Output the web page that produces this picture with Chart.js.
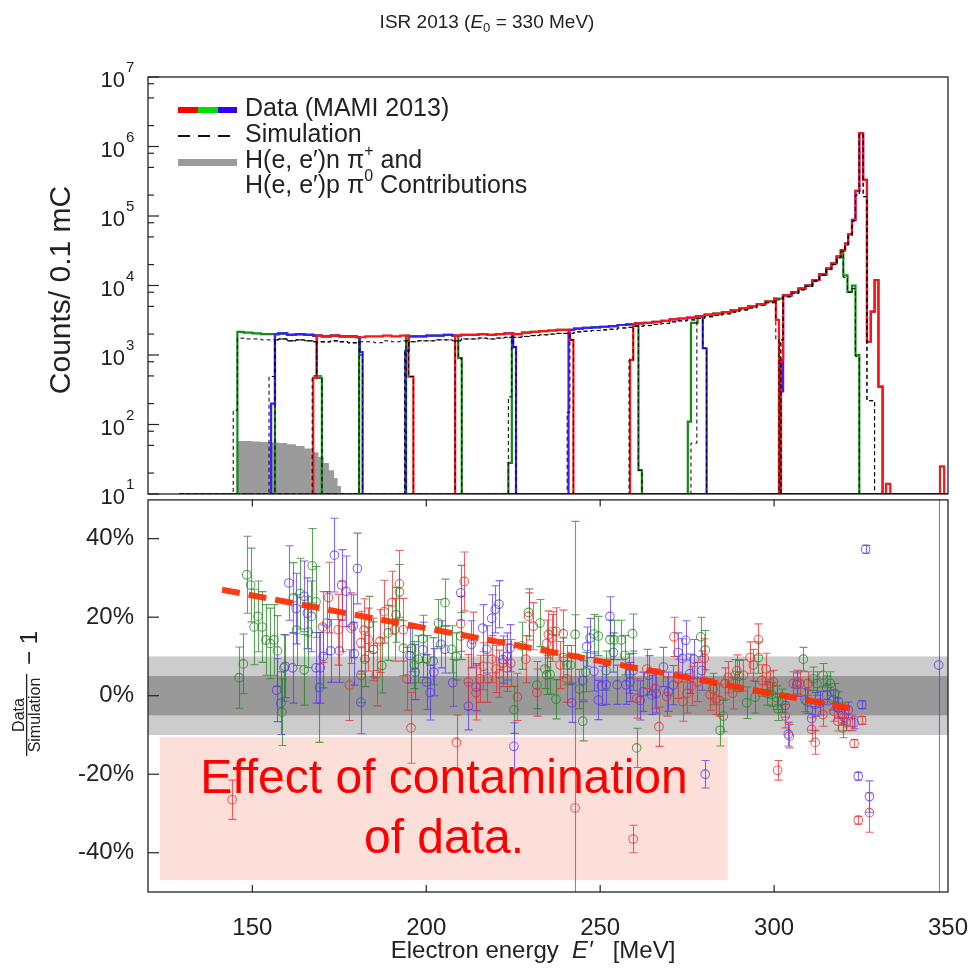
<!DOCTYPE html>
<html>
<head>
<meta charset="utf-8">
<script src="https://cdn.jsdelivr.net/npm/chart.js@4.4.1/dist/chart.umd.min.js"></script>
<style>
  html, body { margin: 0; padding: 0; background: #fff; }
  #wrap { position: relative; width: 974px; height: 969px; }
  canvas { position: absolute; left: 0; }
  #top { top: 0; }
  #bottom { top: 494px; }
</style>
</head>
<body>
<div id="wrap">
  <canvas id="top" width="974" height="520"></canvas>
  <canvas id="bottom" width="974" height="475"></canvas>
</div>
<script>
// ---------- data ----------
// envelope histogram, bins start at envE[i], last bin ends at 350 MeV
const envE = [
  145, 147.5, 150, 152.5, 155, 157.5, 160, 162.5, 165, 167.5,
  170, 172.5, 175, 177.5, 180, 182.5, 185, 187.5, 190, 192.5,
  195, 197.5, 200, 202.5, 205, 207.5, 210, 212.5, 215, 217.5,
  220, 222.5, 225, 227.5, 230, 232.5, 235, 237.5, 240, 242.5,
  245, 247.5, 250, 252.5, 255, 257.5, 260, 262.5, 265, 267.5,
  270, 272.5, 275, 277.5, 280, 282.5, 285, 287.5, 290, 292.5,
  295, 297.5, 300, 302.5, 305, 307, 309, 311, 313, 315,
  316.5, 318, 319.2, 320.4, 321.3, 322.4, 323.4, 324.5, 325.6, 326.7,
  327.8, 328.9, 330, 331.2, 332.2, 333.4, 347.7, 348.9
]
const dataCounts = [
  2150, 2100, 2050, 2000, 2000, 2050, 1950, 2000, 1950, 1900,
  1850, 1900, 1850, 1850, 1800, 1850, 1850, 1900, 1850, 1900,
  1850, 1850, 1900, 1900, 1950, 1900, 1950, 1950, 2000, 1950,
  2000, 2050, 2000, 2100, 2150, 2200, 2250, 2300, 2300, 2400,
  2450, 2500, 2550, 2600, 2700, 2750, 2850, 2900, 3000, 3100,
  3250, 3350, 3450, 3600, 3800, 3950, 4150, 4400, 4700, 5000,
  5400, 5900, 6500, 7200, 8000, 9000, 10000, 12000, 14500, 17500,
  21000, 26000, 32000, 40000, 55000, 88000, 230000, 1560000, 330000, 1550,
  4200, 12000, 350, 10, 14, 10, 25, 10
]
const simCounts = [
  1750, 1700, 1700, 1650, 1650, 1700, 1600, 1650, 1600, 1550,
  1550, 1600, 1550, 1500, 1550, 1550, 1500, 1600, 1550, 1600,
  1550, 1600, 1600, 1650, 1650, 1600, 1700, 1700, 1750, 1700,
  1750, 1800, 1800, 1850, 1900, 1950, 2000, 2050, 2050, 2150,
  2200, 2250, 2300, 2350, 2450, 2500, 2600, 2650, 2750, 2850,
  3000, 3100, 3200, 3350, 3550, 3700, 3900, 4150, 4450, 4750,
  5150, 5650, 6200, 6900, 7700, 8700, 9700, 11500, 14000, 17000,
  20000, 25000, 31000, 38000, 52000, 85000, 200000, 1500000, 190000, 220,
  220, 10, 10, 10, 10, 10, 10, 10
]

// spectrometer settings: [E, counts] partial bins at the edges
const setSeries = ['green', 'blue', 'green', 'red', 'green', 'blue', 'red', 'green', 'blue', 'red', 'green', 'blue', 'red']
const setRiseSteps = [[], [[155.4, 200]], [], [[167.5, 470]], [], [[194.0, 1150]], [], [[223.6, 28]], [], [[258.6, 850]], [[275.2, 110], [276.1, 2900]], [[301.8, 300]], [[302.0, 850]]]
const setPlatLo = [145.7, 156.5, 156.5, 168.5, 194.2, 195.0, 208.3, 224.6, 240.9, 259.5, 278.0, 302.6, 302.6]
const setPlatHi = [168.5, 180.9, 180.7, 194.9, 209.2, 225.0, 241.3, 261.0, 279.5, 300.5, 319.9, 331.2, 350]
const setFallSteps = [[[168.5, 470]], [[180.9, 1100]], [], [[194.9, 490]], [[209.2, 900]], [[225.0, 1300]], [[241.3, 1650]], [[261.0, 22]], [[279.5, 1250]], [[300.5, 3200]], [[319.9, 14000], [321.1, 8100], [322.4, 10000], [323.4, 1000]], [], []]
const setEnd = [170.0, 181.7, 180.7, 196.3, 210.2, 225.8, 242.3, 262.0, 280.6, 301.4, 324.5, 331.2, 350]

const simRiseSteps = [[[144.5, 160]], [[154.8, 490]], [], [[167.2, 500]], [], [[193.8, 1150]], [], [[223.6, 250]], [[240.5, 150]], [[258.3, 850]], [[276.1, 54]], [[301.8, 1650]], [[302.0, 1650]]]
const simPlatLo = [145.7, 156.5, 156.5, 168.5, 194.2, 195.0, 208.3, 224.6, 241.3, 259.5, 277.8, 302.6, 302.6]
const simFallSteps = [[[168.5, 500]], [[180.9, 1000]], [], [[194.9, 490]], [[209.2, 900]], [[225.0, 1300]], [[241.3, 1650]], [[261.0, 22]], [[279.5, 1250]], [[300.5, 1650]], [[319.9, 13000], [321.1, 8000], [322.4, 9000], [323.4, 950]], [], []]

// H(e,e')n pi+ and H(e,e')p pi0 contributions
const pionE = [145.5, 147.5, 150, 152.5, 155, 157.5, 160, 162.5, 165, 167, 169, 170.5, 172, 173.5, 174.5, 175.5]
const pionCounts = [58, 58, 57, 56, 55, 54, 52, 49, 45, 40, 34, 28, 22, 17, 13, 10]

// residuals (Data/Simulation - 1) in %
const greenE = [146.2, 147.4, 148.4, 149.5, 150.5, 151.6, 152.8, 153.9, 155.1, 156.2, 157.2, 158.5, 159.1, 161.8, 162.7, 163.7, 164.9, 166.1, 167.2, 168.3, 169.3,
  181.2, 182.4, 183.5, 184.8, 187.2, 189.1, 191.3, 192.3, 193.4, 195.8, 196.6, 197.7, 199.0, 200.1, 202.0, 203.5, 205.4, 207.3, 208.6, 209.9,
  225.2, 227.4, 229.4, 231.8, 232.7, 234.1, 234.6, 235.6, 236.4, 237.3, 239.4, 240.4, 241.5, 242.8, 244.0, 245.0, 245.9, 248.2, 249.5, 251.7, 252.8, 254.0, 256.0, 257.1, 258.4, 259.3, 260.5,
  278.9, 280.2, 282.4, 284.5, 285.4, 288.8, 289.9, 292.1, 294.5, 295.5, 298.1, 299.3, 300.7, 301.0, 302.2, 308.4, 309.5, 311.3, 312.3, 314.1, 315.1, 316.2, 317.5, 318.5, 319.7]
const greenPct = [4.6, 8.1, 30.8, 28.2, 17.5, 20.2, 17.5, 14.2, 13.3, 14.2, 11.4, -4.2, 7.1, 24.9, 16.7, 26.0, 6.6, 16.2, 33.1, 23.9, 2.1,
  5.2, 9.3, 18.3, 11.8, 7.7, 16.0, 20.6, 26.4, 12.1, 12.1, 7.8, 9.3, 14.5, 9.3, 8.8, 18.5, 23.7, 11.8, 10.0, 15.2,
  -3.6, 12.7, 21.2, 2.7, 18.5, 6.8, 5.3, 5.4, 16.4, -0.9, 9.7, 7.8, 7.8, 15.6, 1.7, -6.5, 6.0, 15.7, 15.2, 6.4, 14.3, 14.2, 14.2, 10.3, 5.6, 15.8, -13.3,
  15.0, 11.6, 1.7, -8.8, -5.2, 5.2, 5.0, -1.8, -0.4, 9.7, 0.6, 0.3, -0.5, -3.3, -1.3, 9.3, -1.5, 4.3, 3.1, 5.2, 2.0, 3.1, 0.6, -1.5, -8.2]
const greenErr = [7.8, 7.6, 9.8, 9.4, 9.6, 9, 9, 9, 9, 9, 9, 8.5, 8.5, 9, 9, 9, 9, 9, 9.5, 9, 14,
  7, 7, 7, 7, 7, 7, 7, 7, 7, 6, 6, 6, 6, 6, 6, 6, 6, 6, 6, 6,
  6, 6, 6, 6, 6, 5, 5, 5, 5, 5, 5, 5, 5, 5, 5, 5, 5, 5, 5, 5, 5, 5, 5, 5, 5, 5, 5,
  5, 5, 4, 4, 4, 4, 4, 4, 4, 4, 3, 3, 3, 3, 3, 3, 3, 3, 3, 3, 3, 3, 2.5, 2.5, 2.5]

const blueE = [157.0, 158.2, 159.4, 160.5, 161.6, 162.6, 164.9, 165.8, 167.0, 168.3, 169.5, 170.4, 171.4, 172.5, 173.6, 175.0, 175.7, 176.9, 179.0, 179.3, 180.2, 181.2,
  195.3, 196.8, 199.0, 200.1, 201.1, 202.2, 204.2, 205.4, 207.6, 209.9, 212.1, 213.0, 214.3, 216.2, 217.4, 218.8, 219.8, 220.9, 222.0, 223.1, 224.1, 225.2,
  241.8, 245.0, 246.1, 247.1, 248.2, 249.5, 250.4, 251.7, 252.8, 253.8, 254.9, 257.4, 258.6, 259.5, 261.5, 262.4, 263.9, 264.8, 266.1, 268.2, 269.6, 271.0, 272.4, 273.6, 274.6, 275.8, 277.0, 279.2, 280.2,
  303.2, 304.1, 306.5, 308.9, 310.8, 311.8, 313.2, 315.1, 317.0, 318.5, 320.1, 321.3, 323.0, 324.2, 325.2, 326.3, 327.4, 347.3]
const bluePct = [1.4, -1.9, 7.5, 28.7, 7.1, 22.2, 25.3, 21.0, 20.2, 7.1, 7.1, 10.0, 18.5, 11.4, 35.8, 11.4, 28.2, 26.6, 17.7, 10.7, 32.4, -1.7,
  10.2, 6.0, 11.7, 3.5, 0.8, 6.0, 13.1, 11.8, 3.3, 26.2, -2.7, 13.1, 2.2, 17.2, 11.8, 19.7, 22.0, 23.3, 9.2, 10.0, 12.1, -12.9,
  -1.8, 3.9, 12.5, 14.7, 6.2, -1.1, 2.5, 2.8, 20.2, 11.0, 2.8, 2.8, 3.5, 6.4, -1.2, 1.0, 5.2, 0.2, 0.6, 7.3, 1.0, 2.7, 11.0, 9.5, 14.1, 5.6, 9.3, 6.4, -20.0,
  -2.5, -9.8, 2.8, -1.1, -5.8, -2.2, -1.9, 0.2, -1.1, -3.2, -5.5, -3.6, -6.9, -20.5, -2.3, 37.3, -25.7, 7.8]
const blueErr = [8, 8, 8, 9.5, 9, 9, 9, 9, 9, 9, 9, 8, 8, 8, 9.4, 8, 9, 9, 8, 8, 9, 8,
  7, 7, 7, 7, 7, 6, 6, 6, 6, 7, 6, 6, 6, 6, 6, 6, 6, 6, 6, 6, 6, 6,
  5, 5, 5, 5, 5, 5, 5, 5, 5, 5, 5, 5, 5, 5, 5, 5, 5, 5, 5, 5, 5, 5, 5, 5, 5, 5, 5, 5, 3.5,
  3, 3, 3, 3, 3, 3, 3, 2.5, 2.5, 2.5, 2, 2, 1.5, 1, 1, 1, 4, 70]

const redE = [144.2,
  170.2, 171.9, 174.7, 175.7, 177.9, 178.4, 181.2, 182.1, 183.3, 184.8, 185.7, 186.7, 187.9, 190.1, 190.9, 192.3, 193.4, 194.4, 195.6,
  208.7, 209.9, 210.9, 212.1, 213.3, 214.3, 215.5, 216.4, 217.6, 218.8, 220.1, 221.0, 222.1, 223.1, 224.3, 226.2, 228.6, 229.4, 230.8, 231.8, 234.6, 235.1, 236.1, 237.3, 238.5, 239.4, 240.4, 242.8,
  259.5, 260.5, 263.4, 265.8, 266.9, 269.1, 271.2, 272.4, 273.7, 274.9, 276.3, 277.9, 279.9, 281.6, 283.3, 284.3, 285.9, 286.8, 288.1, 289.3, 291.2, 293.1, 294.0, 295.5, 296.4, 297.7, 298.8, 299.8, 301.0,
  303.2, 304.4, 305.5, 306.7, 307.4, 309.7, 310.8, 311.8, 314.0, 317.2, 318.3, 319.4, 320.7, 322.3, 323.0, 324.2, 325.2, 327.4]
const redPct = [-26.5,
  17.5, 25.0, 16.8, 20.2, 2.7, 17.2, 13.5, 16.7, 14.3, 11.8, 5.4, 13.9, 21.4, 23.7, 16.8, 28.5, 16.8, 4.3, -8.2,
  -11.9, 18.3, 29.1, 3.5, 14.3, 0.8, 4.3, 7.5, 4.3, 9.3, 6.8, 5.6, 8.3, 7.1, 8.3, -0.3, 9.3, 20.2, 17.7, 0.8, 13.3, 15.6, 14.7, 16.4, 7.8, 15.8, 4.3, -28.6,
  -36.5, -0.7, 6.8, 1.8, -7.9, -0.2, 15.0, 4.3, -1.5, 0.6, 2.5, 3.5, 9.5, 0.3, -0.8, -1.2, 3.1, 4.7, 0.6, 6.4, 5.2, 9.7, 7.8, 14.3, 3.9, 6.8, 3.1, 3.5, -19.0,
  -5.2, -10.3, 3.1, 3.5, 3.1, 3.1, -8.6, -11.9, -4.8, -4.0, -6.5, -4.4, -6.9, -6.9, -12.2, -31.7, -6.3, -29.8]
const redErr = [5,
  9, 9, 9, 9, 9, 9, 8, 8, 8, 8, 8, 8, 8, 8, 8, 8.5, 8, 8, 9,
  7, 7, 7.5, 7, 7, 7, 6, 6, 6, 6, 6, 6, 6, 6, 6, 6, 6, 6, 6, 6, 6, 6, 6, 6, 6, 6, 6, 73,
  3.5, 5, 5, 5, 5, 5, 5, 5, 5, 5, 5, 5, 5, 4, 4, 4, 4, 4, 4, 4, 4, 4, 4, 4, 4, 4, 3, 3, 2.5,
  3, 3, 3, 3, 3, 3, 3, 3, 3, 2.5, 2.5, 2.5, 2, 2, 1, 1, 1, 5]

// trend of the contamination, systematic bands, marked region
const fitE = [141.3, 322.4]
const fitPct = [27, -3.3]
const bandInner = [-5, 5]
const bandOuter = [-10, 10]
const contamE = [123.4, 286.7]
const contamPct = [-47, -10.5]

// axes
const countTicks = [1e1, 1e2, 1e3, 1e4, 1e5, 1e6, 1e7]
const countMinor = [2, 5, 8]
const pctTicks = [-40, -20, 0, 20, 40]
const energyTicks = [150, 200, 250, 300, 350]

// ---------- styles ----------
const SANS = '"Liberation Sans", Arial, Helvetica, sans-serif'
const histColor = { red: '#ff1414', green: '#128c12', blue: '#3b1cff' }
const resColor = { red: 'rgba(232,45,45,0.75)', green: 'rgba(35,135,35,0.75)', blue: 'rgba(90,55,240,0.75)' }
const drawOrder = { red: 1, blue: 2, green: 3 }

function binValue (counts, e) {
  let v = counts[0]
  envE.forEach((b, i) => { if (b <= e) v = counts[i] })
  return v
}

function buildHist (counts, rise, platLo, platHi, fall, end) {
  const pts = [{ x: 129, y: 10 }]
  rise.forEach(([e, c]) => pts.push({ x: e, y: c }))
  pts.push({ x: platLo, y: binValue(counts, platLo) })
  envE.forEach((e, i) => {
    if (e > platLo && e < platHi) pts.push({ x: e, y: counts[i] })
  })
  fall.forEach(([e, c]) => pts.push({ x: e, y: c }))
  pts.push({ x: end, y: 10 })
  if (end < 350) pts.push({ x: 350, y: 10 })
  return pts
}

function runs (ctx, parts, x, y, align) {
  let w = 0
  parts.forEach(p => { ctx.font = p.f; w += ctx.measureText(p.t).width })
  let cx = align === 'center' ? x - w / 2 : x
  ctx.textAlign = 'left'
  parts.forEach(p => {
    ctx.font = p.f
    ctx.fillText(p.t, cx, y + (p.dy || 0))
    cx += ctx.measureText(p.t).width
  })
}

// ---------- top panel ----------
const topSets = []
setSeries.forEach((s, i) => {
  topSets.push({
    data: buildHist(dataCounts, setRiseSteps[i], setPlatLo[i], setPlatHi[i], setFallSteps[i], setEnd[i]),
    borderColor: histColor[s],
    borderWidth: 2.2,
    stepped: true,
    fill: false,
    order: drawOrder[s]
  })
  topSets.push({
    data: buildHist(simCounts, simRiseSteps[i], simPlatLo[i], setPlatHi[i], simFallSteps[i], setEnd[i]),
    borderColor: '#000',
    borderWidth: 1,
    borderDash: [4, 3],
    stepped: true,
    fill: false,
    order: 0
  })
})
topSets.push({
  data: pionE.map((e, i) => ({ x: e, y: pionCounts[i] })).concat([{ x: 175.5, y: 10 }]),
  borderWidth: 0,
  borderColor: 'rgba(0,0,0,0)',
  backgroundColor: '#9b9b9b',
  stepped: true,
  fill: 'start',
  order: 20
})

const topDecor = {
  id: 'topDecor',
  afterDraw (chart) {
    const { ctx, chartArea: a, scales: { y } } = chart
    ctx.save()
    ctx.strokeStyle = '#222'
    ctx.lineWidth = 1.3
    ctx.strokeRect(a.left, a.top, a.right - a.left, a.bottom - a.top)

    // inward ticks on the left
    ctx.lineWidth = 1.2
    countTicks.forEach((v, k) => {
      const py = y.getPixelForValue(v)
      ctx.beginPath(); ctx.moveTo(a.left, py); ctx.lineTo(a.left + 11, py); ctx.stroke()
      if (k < countTicks.length - 1) {
        countMinor.forEach(m => {
          const q = y.getPixelForValue(m * v)
          ctx.beginPath(); ctx.moveTo(a.left, q); ctx.lineTo(a.left + 6, q); ctx.stroke()
        })
      }
    })

    // tick labels 10^n
    ctx.fillStyle = '#222'
    ctx.textBaseline = 'middle'
    countTicks.forEach(v => {
      const py = y.getPixelForValue(v)
      const n = Math.round(Math.log10(v))
      ctx.font = '22px ' + SANS
      ctx.textAlign = 'right'
      ctx.fillText('10', 125, py + 4)
      ctx.font = '15px ' + SANS
      ctx.textAlign = 'left'
      ctx.fillText(String(n), 126, py - 9)
    })

    // title
    ctx.fillStyle = '#222'
    runs(ctx, [
      { t: 'ISR 2013 (', f: '19px ' + SANS },
      { t: 'E', f: 'italic 19px ' + SANS },
      { t: '0', f: '13px ' + SANS, dy: 5 },
      { t: ' = 330 MeV)', f: '19px ' + SANS }
    ], 487, 23, 'center')

    // y title
    ctx.save()
    ctx.translate(62, 290)
    ctx.rotate(-Math.PI / 2)
    ctx.font = '30px ' + SANS
    ctx.textAlign = 'center'
    ctx.fillText('Counts/ 0.1 mC', 0, 0)
    ctx.restore()

    // legend
    ctx.fillStyle = '#ff0000'; ctx.fillRect(178, 107, 20, 6)
    ctx.fillStyle = '#00e000'; ctx.fillRect(198, 107, 20, 6)
    ctx.fillStyle = '#3300ff'; ctx.fillRect(218, 107, 19, 6)
    ctx.strokeStyle = '#111'; ctx.lineWidth = 2; ctx.setLineDash([12, 8])
    ctx.beginPath(); ctx.moveTo(178, 136); ctx.lineTo(237, 136); ctx.stroke()
    ctx.setLineDash([])
    ctx.fillStyle = '#9b9b9b'; ctx.fillRect(178, 159, 59, 7)

    ctx.fillStyle = '#222'
    ctx.textBaseline = 'middle'
    const lf = '25px ' + SANS
    const sf = '16px ' + SANS
    runs(ctx, [{ t: 'Data (MAMI 2013)', f: lf }], 245, 109, 'left')
    runs(ctx, [{ t: 'Simulation', f: lf }], 245, 135, 'left')
    runs(ctx, [{ t: 'H(e, e′)n ', f: lf }, { t: 'π', f: lf }, { t: '+', f: sf, dy: -9 }, { t: ' and', f: lf }], 245, 161, 'left')
    runs(ctx, [{ t: 'H(e, e′)p ', f: lf }, { t: 'π', f: lf }, { t: '0', f: sf, dy: -9 }, { t: ' Contributions', f: lf }], 245, 186, 'left')
    ctx.restore()
  }
}

new Chart(document.getElementById('top'), {
  type: 'line',
  data: { datasets: topSets },
  options: {
    responsive: false,
    animation: false,
    devicePixelRatio: 1,
    layout: { padding: { left: 148, right: 26, top: 77, bottom: 26 } },
    plugins: { legend: { display: false }, tooltip: { enabled: false } },
    elements: { point: { radius: 0 }, line: { tension: 0, borderJoinStyle: 'miter' } },
    scales: {
      x: { type: 'linear', min: 120, max: 350, display: false },
      y: { type: 'logarithmic', min: 10, max: 1e7, display: false }
    }
  },
  plugins: [topDecor]
})

// ---------- bottom panel ----------
function residualSet (name, es, ps, errs) {
  return {
    type: 'scatter',
    data: es.map((e, i) => ({ x: e, y: ps[i] })),
    errors: errs,
    borderColor: resColor[name],
    backgroundColor: 'rgba(0,0,0,0)',
    pointRadius: 4.3,
    pointBorderWidth: 1.1,
    pointHoverRadius: 4.3,
    order: drawOrder[name]
  }
}

const bottomSets = [
  residualSet('green', greenE, greenPct, greenErr),
  residualSet('blue', blueE, bluePct, blueErr),
  residualSet('red', redE, redPct, redErr),
  {
    type: 'line',
    data: fitE.map((e, i) => ({ x: e, y: fitPct[i] })),
    borderColor: 'rgba(255,45,0,0.92)',
    borderWidth: 6,
    borderDash: [18, 9],
    pointRadius: 0,
    fill: false,
    order: 0
  }
]

const bottomDecor = {
  id: 'bottomDecor',
  beforeDatasetsDraw (chart) {
    const { ctx, chartArea: a, scales: { x, y } } = chart
    ctx.save()
    // systematic bands
    ctx.fillStyle = '#cccccc'
    ctx.fillRect(a.left, y.getPixelForValue(bandOuter[1]), a.right - a.left, y.getPixelForValue(bandOuter[0]) - y.getPixelForValue(bandOuter[1]))
    ctx.fillStyle = '#999999'
    ctx.fillRect(a.left, y.getPixelForValue(bandInner[1]), a.right - a.left, y.getPixelForValue(bandInner[0]) - y.getPixelForValue(bandInner[1]))
    // contamination region
    ctx.fillStyle = '#fddfda'
    const bx = x.getPixelForValue(contamE[0])
    const by = y.getPixelForValue(contamPct[1])
    ctx.fillRect(bx, by, x.getPixelForValue(contamE[1]) - bx, y.getPixelForValue(contamPct[0]) - by)

    // error bars
    ctx.beginPath(); ctx.rect(a.left, a.top, a.right - a.left, a.bottom - a.top); ctx.clip()
    chart.data.datasets.forEach(ds => {
      if (!ds.errors) return
      ctx.strokeStyle = ds.borderColor
      ctx.lineWidth = 1.1
      ds.data.forEach((p, i) => {
        const px = Math.round(x.getPixelForValue(p.x)) + 0.5
        const hi = y.getPixelForValue(p.y + ds.errors[i])
        const lo = y.getPixelForValue(p.y - ds.errors[i])
        ctx.beginPath()
        ctx.moveTo(px, hi); ctx.lineTo(px, lo)
        ctx.moveTo(px - 4, hi); ctx.lineTo(px + 4, hi)
        ctx.moveTo(px - 4, lo); ctx.lineTo(px + 4, lo)
        ctx.stroke()
      })
    })
    ctx.restore()
  },
  afterDatasetsDraw (chart) {
    const { ctx } = chart
    ctx.save()
    ctx.fillStyle = '#ff0000'
    ctx.font = '48px ' + SANS
    ctx.textAlign = 'center'
    ctx.textBaseline = 'alphabetic'
    ctx.fillText('Effect of contamination', 444, 299)
    ctx.fillText('of data.', 444, 359)
    ctx.restore()
  },
  afterDraw (chart) {
    const { ctx, chartArea: a, scales: { x, y } } = chart
    ctx.save()
    ctx.strokeStyle = '#222'
    ctx.lineWidth = 1.3
    ctx.strokeRect(a.left, a.top + 0.5, a.right - a.left, a.bottom - a.top - 0.5)

    ctx.lineWidth = 1.2
    pctTicks.forEach(v => {
      const py = y.getPixelForValue(v)
      ctx.beginPath(); ctx.moveTo(a.left, py); ctx.lineTo(a.left + 11, py); ctx.stroke()
    })
    energyTicks.forEach(v => {
      if (v >= 350) return
      const px = x.getPixelForValue(v)
      ctx.beginPath(); ctx.moveTo(px, a.top); ctx.lineTo(px, a.top + 7); ctx.stroke()
      ctx.beginPath(); ctx.moveTo(px, a.bottom); ctx.lineTo(px, a.bottom - 7); ctx.stroke()
    })

    ctx.fillStyle = '#222'
    ctx.textBaseline = 'middle'
    ctx.font = '24px ' + SANS
    ctx.textAlign = 'right'
    pctTicks.forEach(v => ctx.fillText(v + '%', 134, y.getPixelForValue(v)))
    ctx.textAlign = 'center'
    energyTicks.forEach(v => ctx.fillText(String(v), x.getPixelForValue(v), 434))

    runs(ctx, [
      { t: 'Electron energy  ', f: '24px ' + SANS },
      { t: 'E′', f: 'italic 24px ' + SANS },
      { t: '   [MeV]', f: '24px ' + SANS }
    ], 533, 457, 'center')

    // y title: Data/Simulation - 1
    ctx.save()
    ctx.translate(28, 196)
    ctx.rotate(-Math.PI / 2)
    ctx.textBaseline = 'alphabetic'
    ctx.textAlign = 'center'
    ctx.font = '16px ' + SANS
    ctx.fillText('Data', -25, -4)
    ctx.fillText('Simulation', -25, 12)
    ctx.fillRect(-66, -2, 82, 1.3)
    ctx.textAlign = 'left'
    ctx.font = '24px ' + SANS
    ctx.fillText('− 1', 25, 9)
    ctx.restore()
    ctx.restore()
  }
}

new Chart(document.getElementById('bottom'), {
  type: 'scatter',
  data: { datasets: bottomSets },
  options: {
    responsive: false,
    animation: false,
    devicePixelRatio: 1,
    layout: { padding: { left: 148, right: 26, top: 0, bottom: 77 } },
    plugins: { legend: { display: false }, tooltip: { enabled: false } },
    scales: {
      x: { type: 'linear', min: 120, max: 350, display: false },
      y: { type: 'linear', min: -50, max: 50, display: false }
    }
  },
  plugins: [bottomDecor]
})
</script>
</body>
</html>
